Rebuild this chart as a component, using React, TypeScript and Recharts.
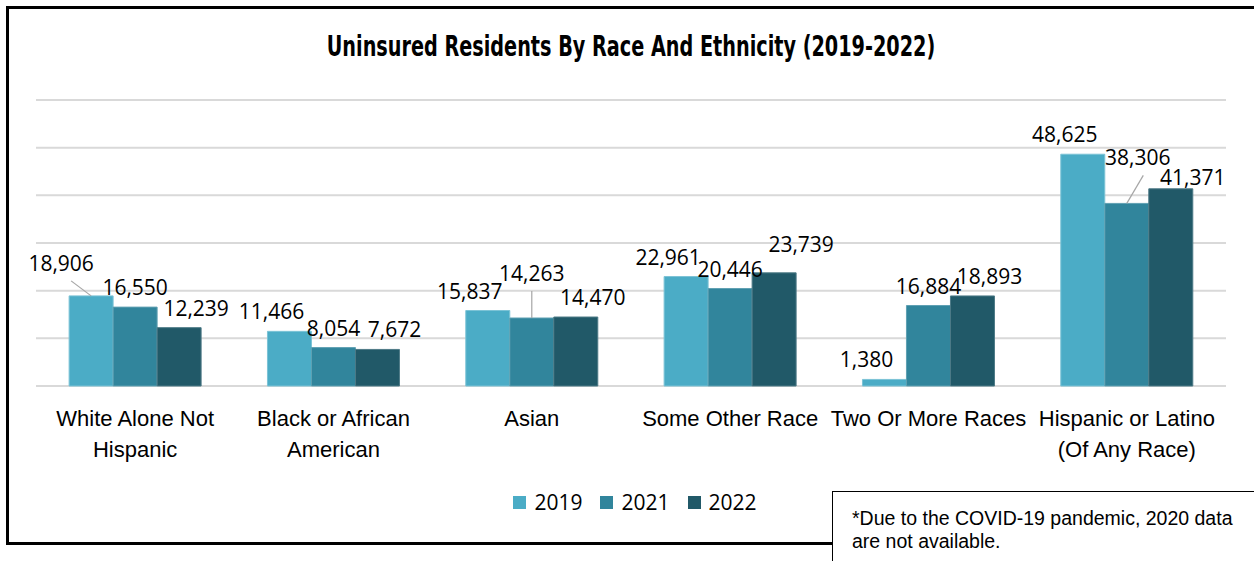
import React from "react";
import { BarChart, Bar, XAxis, YAxis, CartesianGrid, Legend, LabelList } from "recharts";

const categories = [
  "White Alone Not Hispanic",
  "Black or African American",
  "Asian",
  "Some Other Race",
  "Two Or More Races",
  "Hispanic or Latino (Of Any Race)",
];
// how each category label wraps under the axis
const categoryLines = [
  ["White Alone Not", "Hispanic"],
  ["Black or African", "American"],
  ["Asian"],
  ["Some Other Race"],
  ["Two Or More Races"],
  ["Hispanic or Latino", "(Of Any Race)"],
];
const years = ["2019", "2021", "2022"];
const values2019 = [18906, 11466, 15837, 22961, 1380, 48625];
const values2021 = [16550, 8054, 14263, 20446, 16884, 38306];
const values2022 = [12239, 7672, 14470, 23739, 18893, 41371];
const yTicks = [0, 10000, 20000, 30000, 40000, 50000, 60000];

const colors = ["#4BACC6", "#31859C", "#215968"];
const labelShift = [-18, 0, 17];
// labels Excel pushed away from their bar ("series-index"); some get a leader line
const labelNudges: Record<string, { dx: number; gap: number; leader?: boolean }> = {
  "0-0": { dx: -30, gap: 25, leader: true },
  "1-2": { dx: 0, gap: 37, leader: true },
  "1-5": { dx: 11, gap: 38, leader: true },
  "2-3": { dx: 27, gap: 21 },
  "2-5": { dx: 22, gap: 4 },
};

const data = categories.map((name, i) => ({
  name,
  y2019: values2019[i],
  y2021: values2021[i],
  y2022: values2022[i],
}));

const fmt = (v: number) => v.toLocaleString("en-US");

function CategoryTick(props: any) {
  const { x, y, index } = props;
  const lines = categoryLines[index] || [];
  return (
    <text
      x={x}
      y={y}
      textAnchor="middle"
      fill="#000"
      fontFamily="'Liberation Sans', Arial, sans-serif"
      fontSize={22}
    >
      {lines.map((l, k) => (
        <tspan key={k} x={x} dy={k === 0 ? 32 : 31}>
          {l}
        </tspan>
      ))}
    </text>
  );
}

function valueLabel(series: number) {
  return (props: any) => {
    const { x, y, width, value, index } = props;
    const cx = Number(x) + Number(width) / 2;
    const top = Number(y);
    const nudge = labelNudges[`${series}-${index}`];
    const tx = cx + (nudge ? nudge.dx : labelShift[series]);
    const ty = top - (nudge ? nudge.gap : 12);
    return (
      <g>
        {nudge && nudge.leader && (
          <line
            x1={nudge.dx < 0 ? tx + 10 : tx + nudge.dx * 0.5}
            y1={ty + 10}
            x2={cx}
            y2={top}
            stroke="#a6a6a6"
            strokeWidth={1.2}
          />
        )}
        <text
          x={tx}
          y={ty}
          textAnchor="middle"
          fill="#000"
          fontFamily="'Open Sans', sans-serif"
          fontSize={21}
        >
          {fmt(Number(value))}
        </text>
      </g>
    );
  };
}

function LegendRow() {
  return (
    <div
      style={{
        display: "flex",
        justifyContent: "center",
        alignItems: "center",
        gap: 18,
        fontFamily: "'Open Sans', sans-serif",
        fontSize: 21,
        color: "#000",
      }}
    >
      {years.map((yr, i) => (
        <div key={yr} style={{ display: "flex", alignItems: "center", gap: 8 }}>
          <span style={{ width: 13, height: 13, background: colors[i], display: "inline-block" }} />
          <span>{yr}</span>
        </div>
      ))}
    </div>
  );
}

export default function App() {
  return (
    <div style={{ position: "absolute", left: 0, top: 0, width: 1254, height: 561, background: "#fff", overflow: "hidden" }}>
      <div
        style={{
          position: "absolute",
          left: 6,
          top: 6,
          width: 1245,
          height: 533,
          borderTop: "3px solid #000",
          borderLeft: "3px solid #000",
          borderBottom: "3px solid #000",
          borderRight: "1px solid #999",
        }}
      />
      <div
        style={{
          position: "absolute",
          left: 0,
          top: 29,
          width: 1262,
          textAlign: "center",
          fontFamily: "'DejaVu Sans', sans-serif",
          fontWeight: 700,
          fontSize: 29,
          color: "#000",
          transform: "scaleX(0.663)",
          transformOrigin: "631px 0",
          whiteSpace: "nowrap",
        }}
      >
        Uninsured Residents By Race And Ethnicity (2019-2022)
      </div>
      <div style={{ position: "absolute", left: 0, top: 0 }}>
        <BarChart
          width={1254}
          height={561}
          data={data}
          margin={{ top: 100, right: 28, left: 36, bottom: 87 }}
          barCategoryGap="16.7%"
          barGap={0}
        >
          <CartesianGrid vertical={false} stroke="#d9d9d9" strokeWidth={2} />
          <YAxis hide domain={[0, 60000]} ticks={yTicks} width={0} />
          <XAxis
            dataKey="name"
            axisLine={false}
            tickLine={false}
            interval={0}
            height={60}
            tick={<CategoryTick />}
          />
          <Legend
            content={<LegendRow />}
            wrapperStyle={{ position: "absolute", top: 488, left: 0, width: 1270 }}
          />
          <Bar dataKey="y2019" name="2019" fill={colors[0]} stroke="#7cc3d6" strokeWidth={1} isAnimationActive={false}>
            <LabelList dataKey="y2019" content={valueLabel(0)} />
          </Bar>
          <Bar dataKey="y2021" name="2021" fill={colors[1]} stroke="#5fa0b2" strokeWidth={1} isAnimationActive={false}>
            <LabelList dataKey="y2021" content={valueLabel(1)} />
          </Bar>
          <Bar dataKey="y2022" name="2022" fill={colors[2]} stroke="#4d7a86" strokeWidth={1} isAnimationActive={false}>
            <LabelList dataKey="y2022" content={valueLabel(2)} />
          </Bar>
        </BarChart>
      </div>
      <div
        style={{
          position: "absolute",
          left: 832,
          top: 491,
          width: 430,
          height: 80,
          background: "#fff",
          borderTop: "1px solid #000",
          borderLeft: "1px solid #000",
          boxSizing: "border-box",
          padding: "15px 0 0 19px",
          fontFamily: "'Liberation Sans', Arial, sans-serif",
          fontSize: 19.5,
          lineHeight: "23px",
          color: "#000",
          whiteSpace: "nowrap",
        }}
      >
        *Due to the COVID-19 pandemic, 2020 data
        <br />
        are not available.
      </div>
    </div>
  );
}
